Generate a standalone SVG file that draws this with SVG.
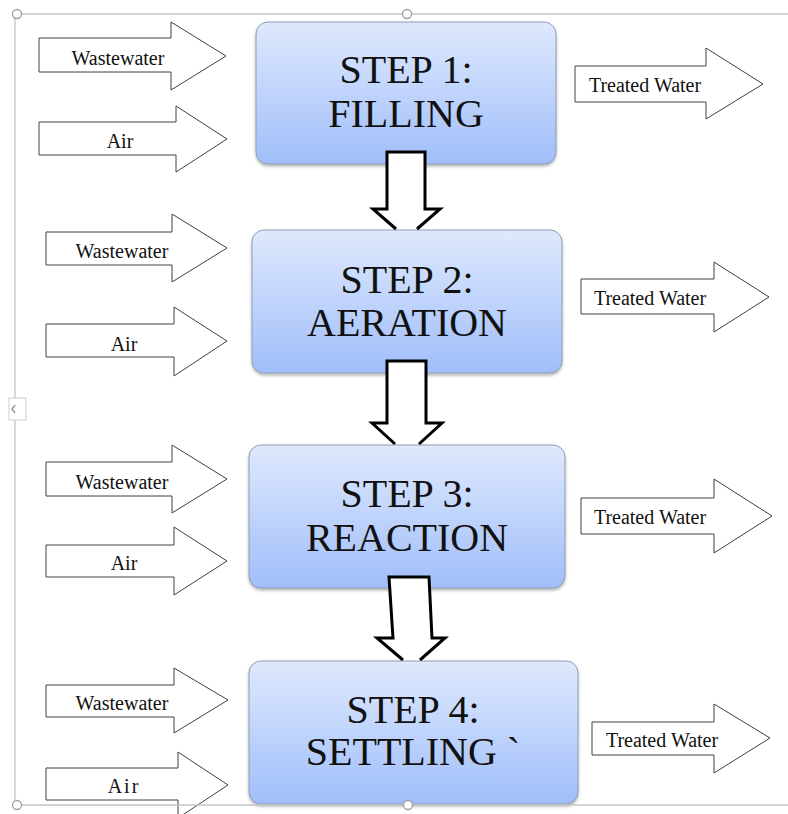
<svg xmlns="http://www.w3.org/2000/svg" width="788" height="814" viewBox="0 0 788 814">
<defs>
<linearGradient id="boxGrad" x1="0" y1="0" x2="0" y2="1">
<stop offset="0" stop-color="#dfe9fd"/>
<stop offset="1" stop-color="#a0befa"/>
</linearGradient>
<filter id="shadow" x="-5%" y="-5%" width="110%" height="115%">
<feDropShadow dx="0" dy="2" stdDeviation="1.5" flood-color="#000" flood-opacity="0.3"/>
</filter>
<style>
.frame{stroke:#c4c4c4;stroke-width:1.3;fill:none}
.handle{fill:#fff;stroke:#a0a0a0;stroke-width:1.3}
.box{fill:url(#boxGrad);stroke:#8e9cb3;stroke-width:1;filter:url(#shadow)}
.big{font-family:"Liberation Serif","Times New Roman",serif;font-size:40px;fill:#111;text-anchor:middle}
.io{fill:#fff;stroke:#404040;stroke-width:1}
.lbl{font-family:"Liberation Serif","Times New Roman",serif;font-size:20px;fill:#111;text-anchor:middle}
.flow{fill:#fff;stroke:#000;stroke-width:3;stroke-linejoin:miter}
</style>
</defs>
<rect width="788" height="814" fill="#fff"/>

<g id="step1">
<rect class="box" x="256" y="22" width="300" height="142" rx="12"/>
<text class="big" x="406" y="83">STEP 1:</text>
<text class="big" x="406" y="127">FILLING</text>
</g>
<g id="step2">
<rect class="box" x="252" y="230" width="310" height="143" rx="12"/>
<text class="big" x="407" y="293">STEP 2:</text>
<text class="big" x="407" y="336">AERATION</text>
</g>
<g id="step3">
<rect class="box" x="249" y="445" width="316" height="143" rx="12"/>
<text class="big" x="407" y="507">STEP 3:</text>
<text class="big" x="407" y="551">REACTION</text>
</g>
<g id="step4">
<rect class="box" x="249" y="661" width="329" height="143" rx="12"/>
<text class="big" x="413" y="723">STEP 4:</text>
<text class="big" x="413" y="765">SETTLING `</text>
</g>

<g id="in1-wastewater">
<path class="io" d="M39 38 H171 V22 L226 56 L171 90 V72 H39 Z"/>
<text class="lbl" x="118" y="65">Wastewater</text>
</g>
<g id="in1-air">
<path class="io" d="M39 122 H176 V106 L227 139 L176 172 V155 H39 Z"/>
<text class="lbl" x="120" y="148">Air</text>
</g>
<g id="out1-treated">
<path class="io" d="M575 66 H706 V48 L763 84 L706 119 V102 H575 Z"/>
<text class="lbl" x="645" y="92">Treated Water</text>
</g>

<g id="in2-wastewater">
<path class="io" d="M46 232 H172 V214 L227 248 L172 282 V265 H46 Z"/>
<text class="lbl" x="122" y="258">Wastewater</text>
</g>
<g id="in2-air">
<path class="io" d="M46 324 H174 V307 L227 341 L174 376 V357 H46 Z"/>
<text class="lbl" x="124" y="351">Air</text>
</g>
<g id="out2-treated">
<path class="io" d="M581 279 H714 V262 L769 297 L714 332 V314 H581 Z"/>
<text class="lbl" x="650" y="305">Treated Water</text>
</g>

<g id="in3-wastewater">
<path class="io" d="M46 462 H172 V445 L227 479 L172 513 V496 H46 Z"/>
<text class="lbl" x="122" y="489">Wastewater</text>
</g>
<g id="in3-air">
<path class="io" d="M46 545 H174 V527 L227 561 L174 595 V577 H46 Z"/>
<text class="lbl" x="124" y="570">Air</text>
</g>
<g id="out3-treated">
<path class="io" d="M581 498 H714 V479 L772 516 L714 553 V534 H581 Z"/>
<text class="lbl" x="650" y="524">Treated Water</text>
</g>

<g id="in4-wastewater">
<path class="io" d="M46 685 H174 V668 L228 700 L174 733 V717 H46 Z"/>
<text class="lbl" x="122" y="710">Wastewater</text>
</g>
<g id="in4-air">
<path class="io" d="M46 768 H178 V752 L228 785 L178 818 V800 H46 Z"/>
<text class="lbl" x="124" y="793" letter-spacing="2">Air</text>
</g>
<g id="out4-treated">
<path class="io" d="M592 722 H714 V704 L770 738 L714 773 V755 H592 Z"/>
<text class="lbl" x="662" y="747">Treated Water</text>
</g>

<g id="connectors">
<path class="flow" d="M396 229 L373 209 H387 V152 H425 V209 H440 L417 229"/>
<path class="flow" d="M395 444 L372 423 H387 V361 H426 V423 H442 L419 444"/>
<path class="flow" d="M403 660 L377 638 H393 L389 577 H429 L432 638 H445 L420 660"/>
</g>

<g id="frame">
<line class="frame" x1="19" y1="14" x2="788" y2="14"/>
<line class="frame" x1="19" y1="805" x2="788" y2="805"/>
<line class="frame" x1="15" y1="18" x2="15" y2="398"/>
<line class="frame" x1="15" y1="420" x2="15" y2="800"/>
<rect x="9" y="398" width="17" height="22" fill="#fff" stroke="#cccccc" stroke-width="1"/>
<polyline points="15,405 12,409 15,413" fill="none" stroke="#999" stroke-width="1.5"/>
<circle class="handle" cx="17" cy="14" r="4.5"/>
<circle class="handle" cx="407" cy="14" r="4.5"/>
<circle class="handle" cx="17" cy="805" r="4.5"/>
<circle class="handle" cx="408" cy="805" r="4.5"/>
</g>
</svg>
